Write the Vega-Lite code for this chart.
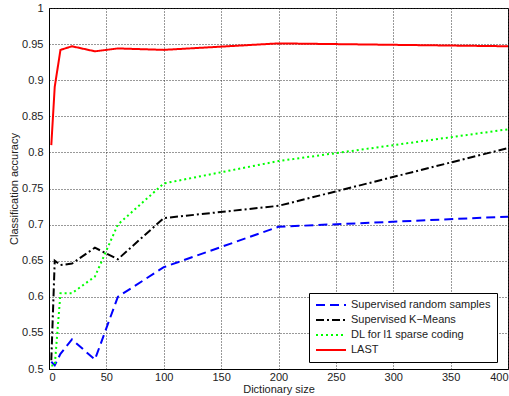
{
  "$schema": "https://vega.github.io/schema/vega-lite/v6.json",
  "width": 459,
  "height": 361,
  "autosize": {"type": "none"},
  "padding": {"left": 49, "top": 8, "right": 1, "bottom": 27},
  "background": "white",
  "config": {
    "font": "Liberation Sans",
    "view": {"stroke": "black", "strokeWidth": 1},
    "axis": {
      "labelFont": "Liberation Sans",
      "titleFont": "Liberation Sans",
      "labelFontSize": 11,
      "titleFontSize": 11,
      "labelColor": "#222",
      "titleColor": "#222",
      "titleFontWeight": "normal",
      "domainColor": "black",
      "tickColor": "black",
      "gridColor": "#333",
      "gridDash": [1, 2],
      "gridOpacity": 1,
      "gridWidth": 1
    }
  },
  "data": {
    "values": [
      {"series": "Supervised random samples", "size": 2, "acc": 0.51},
      {"series": "Supervised random samples", "size": 5, "acc": 0.505},
      {"series": "Supervised random samples", "size": 10, "acc": 0.521},
      {"series": "Supervised random samples", "size": 20, "acc": 0.541},
      {"series": "Supervised random samples", "size": 40, "acc": 0.513},
      {"series": "Supervised random samples", "size": 60, "acc": 0.6},
      {"series": "Supervised random samples", "size": 100, "acc": 0.641},
      {"series": "Supervised random samples", "size": 200, "acc": 0.697},
      {"series": "Supervised random samples", "size": 400, "acc": 0.711},
      {"series": "Supervised K−Means", "size": 2, "acc": 0.512},
      {"series": "Supervised K−Means", "size": 5, "acc": 0.65},
      {"series": "Supervised K−Means", "size": 10, "acc": 0.644},
      {"series": "Supervised K−Means", "size": 20, "acc": 0.646},
      {"series": "Supervised K−Means", "size": 40, "acc": 0.668},
      {"series": "Supervised K−Means", "size": 60, "acc": 0.652},
      {"series": "Supervised K−Means", "size": 100, "acc": 0.709},
      {"series": "Supervised K−Means", "size": 200, "acc": 0.726},
      {"series": "Supervised K−Means", "size": 400, "acc": 0.806},
      {"series": "DL for l1 sparse coding", "size": 2, "acc": 0.505},
      {"series": "DL for l1 sparse coding", "size": 5, "acc": 0.505},
      {"series": "DL for l1 sparse coding", "size": 10, "acc": 0.605},
      {"series": "DL for l1 sparse coding", "size": 20, "acc": 0.605},
      {"series": "DL for l1 sparse coding", "size": 40, "acc": 0.628},
      {"series": "DL for l1 sparse coding", "size": 60, "acc": 0.7},
      {"series": "DL for l1 sparse coding", "size": 100, "acc": 0.757},
      {"series": "DL for l1 sparse coding", "size": 200, "acc": 0.788},
      {"series": "DL for l1 sparse coding", "size": 400, "acc": 0.832},
      {"series": "LAST", "size": 2, "acc": 0.81},
      {"series": "LAST", "size": 5, "acc": 0.891},
      {"series": "LAST", "size": 10, "acc": 0.942},
      {"series": "LAST", "size": 20, "acc": 0.947},
      {"series": "LAST", "size": 40, "acc": 0.94},
      {"series": "LAST", "size": 60, "acc": 0.944},
      {"series": "LAST", "size": 100, "acc": 0.942},
      {"series": "LAST", "size": 200, "acc": 0.951},
      {"series": "LAST", "size": 400, "acc": 0.947}
    ]
  },
  "layer": [
    {
      "mark": {"type": "line", "strokeWidth": 2, "clip": true},
      "encoding": {
        "x": {
          "field": "size", "type": "quantitative",
          "scale": {"domain": [0, 400], "nice": false, "zero": false},
          "axis": {"title": "Dictionary size", "values": [0, 50, 100, 150, 200, 250, 300, 350, 400], "ticks": false, "labelPadding": 2, "titleY": 14, "titleBaseline": "top", "grid": true}
        },
        "y": {
          "field": "acc", "type": "quantitative",
          "scale": {"domain": [0.5, 1], "nice": false, "zero": false},
          "axis": {"title": "Classification accuracy", "values": [0.5, 0.55, 0.6, 0.65, 0.7, 0.75, 0.8, 0.85, 0.9, 0.95, 1], "format": "~g", "ticks": false, "labelPadding": 6, "titlePadding": 2, "grid": true}
        },
        "color": {
          "field": "series", "type": "nominal",
          "scale": {
            "domain": ["Supervised random samples", "Supervised K−Means", "DL for l1 sparse coding", "LAST"],
            "range": ["#0000ff", "#000000", "#00ff00", "#ff0000"]
          },
          "legend": {
            "title": null,
            "orient": "none",
            "legendX": 260,
            "legendY": 285,
            "fillColor": "white",
            "strokeColor": "black",
            "padding": 6,
            "symbolType": "stroke",
            "symbolSize": 900,
            "symbolStrokeWidth": 2,
            "clipHeight": 12,
            "labelFontSize": 11,
            "labelFont": "Liberation Sans",
            "labelColor": "#222",
            "rowPadding": 3,
            "labelOffset": 4
          }
        },
        "strokeDash": {
          "field": "series", "type": "nominal",
          "scale": {
            "domain": ["Supervised random samples", "Supervised K−Means", "DL for l1 sparse coding", "LAST"],
            "range": [[9, 5], [8, 3, 2, 3], [2, 3], [1, 0]]
          }
        }
      }
    }
  ]
}
